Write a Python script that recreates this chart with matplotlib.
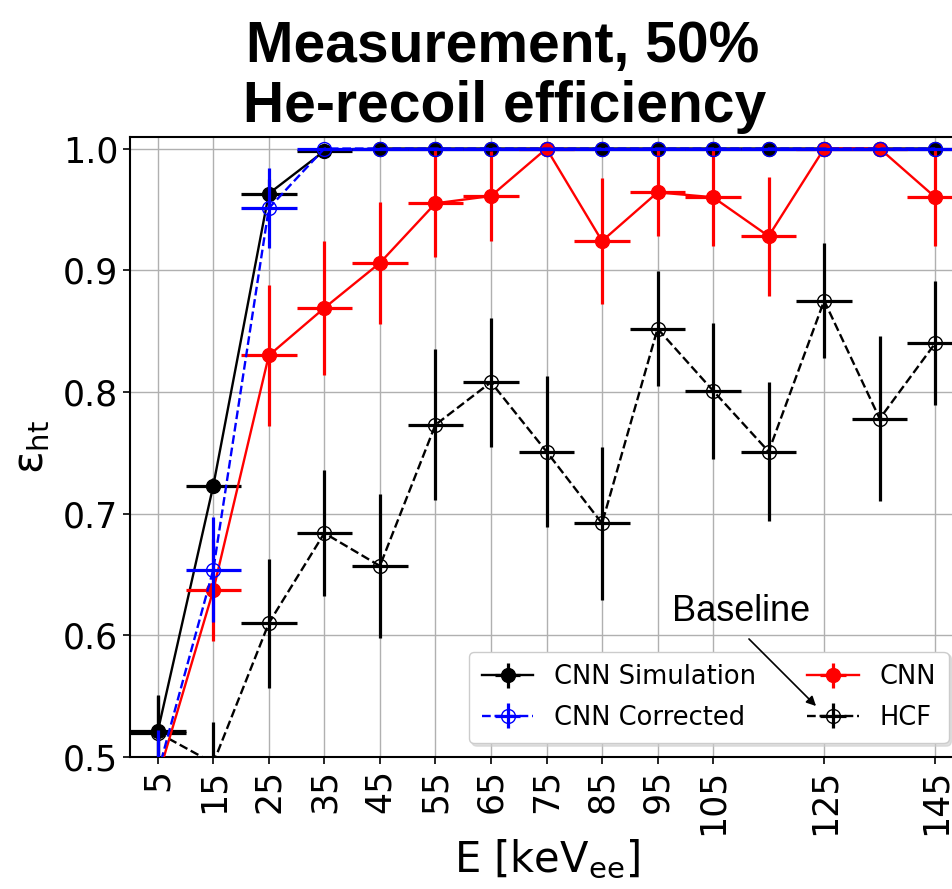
import matplotlib
matplotlib.use("Agg")
import matplotlib.pyplot as plt

# energy bins [keV_ee] and bin half width
energy = [5, 15, 25, 35, 45, 55, 65, 75, 85, 95, 105, 115, 125, 135, 145]
e_halfwidth = [5] * len(energy)
xticks = [5, 15, 25, 35, 45, 55, 65, 75, 85, 95, 105, 125, 145]
yticks = [0.5, 0.6, 0.7, 0.8, 0.9, 1.0]

# CNN Simulation
sim = [0.521, 0.723, 0.963, 0.998, 1.0, 1.0, 1.0, 1.0, 1.0, 1.0, 1.0, 1.0, 1.0, 1.0, 1.0]
sim_err = [0.03, 0.006, 0.012, 0.003, 0, 0, 0, 0, 0, 0, 0, 0, 0, 0, 0]

# CNN Corrected
corr = [0.487, 0.654, 0.951, 1.0, 1.0, 1.0, 1.0, 1.0, 1.0, 1.0, 1.0, 1.0, 1.0, 1.0, 1.0]
corr_err = [0.035, 0.043, 0.033, 0, 0, 0, 0, 0, 0, 0, 0, 0, 0, 0, 0]

# CNN (measurement)
cnn = [0.483, 0.637, 0.830, 0.869, 0.906, 0.955, 0.961, 1.0, 0.924, 0.964, 0.960, 0.928, 1.0, 1.0, 0.960]
cnn_err = [0.015, 0.042, 0.058, 0.055, 0.05, 0.044, 0.037, 0, 0.052, 0.036, 0.04, 0.049, 0, 0, 0.04]

# HCF baseline
hcf = [0.52, 0.495, 0.610, 0.684, 0.657, 0.773, 0.808, 0.751, 0.692, 0.852, 0.801, 0.751, 0.875, 0.778, 0.840]
hcf_err = [0.03, 0.034, 0.053, 0.052, 0.059, 0.062, 0.053, 0.062, 0.063, 0.047, 0.056, 0.057, 0.047, 0.068, 0.051]

fig = plt.figure(figsize=(9.52, 8.89), dpi=100)
W, H = 952, 889
ax = fig.add_axes([130 / W, (H - 757) / H, 833 / W, 620 / H])

style = dict(ms=10, lw=1.7, elinewidth=2.3)
h_sim = ax.errorbar(energy, sim, yerr=sim_err, xerr=e_halfwidth, fmt="o-", color="k",
                    label="CNN Simulation", zorder=3, **style)
h_cnn = ax.errorbar(energy, cnn, yerr=cnn_err, xerr=e_halfwidth, fmt="o-", color="r",
                    label="CNN", zorder=4, **style)
h_corr = ax.errorbar(energy, corr, yerr=corr_err, xerr=e_halfwidth, fmt="o--", color="b",
                     mfc="none", label="CNN Corrected", zorder=5, **style)
h_hcf = ax.errorbar(energy, hcf, yerr=hcf_err, xerr=e_halfwidth, fmt="o--", color="k",
                    mfc="none", label="HCF", zorder=3, **style)

ax.set_xlim(0, 150)
ax.set_ylim(0.5, 1.0095)
ax.set_xticks(xticks)
ax.set_xticklabels([str(t) for t in xticks], rotation=90)
ax.set_yticks(yticks)
ax.set_yticklabels(["%.1f" % t for t in yticks])
ax.tick_params(labelsize=25, length=5, width=1.2)
ax.grid(True, color="#b0b0b0", lw=1)
ax.set_axisbelow(True)
for s in ax.spines.values():
    s.set_linewidth(1.5)

ax.set_xlabel("E [keV$_{\\mathrm{ee}}$]", fontsize=30, labelpad=2)
ax.set_ylabel("ε$_{\\mathrm{ht}}$", fontsize=30, labelpad=8)

ax.legend(handles=[h_sim, h_corr, h_cnn, h_hcf], ncol=2, fontsize=18.5,
          loc="lower left", bbox_to_anchor=(0.407, 0.022), borderaxespad=0,
          shadow={"color": "0.8", "alpha": 0.6},
          handlelength=2.0, handletextpad=0.8, columnspacing=2.0,
          borderpad=0.5, labelspacing=0.55)

title_font = ["Liberation Sans Narrow", "Liberation Sans"]
fig.text(503 / W, 1 - 62 / H, "Measurement, 50%", ha="center", va="baseline",
         fontsize=41, fontweight="bold", family=title_font)
fig.text(505 / W, 1 - 122 / H, "He-recoil efficiency", ha="center", va="baseline",
         fontsize=41, fontweight="bold", family=title_font)

fig.text(741 / W, 1 - 621 / H, "Baseline", ha="center", va="baseline",
         fontsize=26, family="Liberation Sans")
fig.add_artist(matplotlib.patches.FancyArrowPatch(
    (747 / W, 1 - 637 / H), (818 / W, 1 - 708 / H), transform=fig.transFigure,
    arrowstyle="-|>", mutation_scale=14, color="k", lw=1.2))

fig.savefig("out.png", dpi=100)
